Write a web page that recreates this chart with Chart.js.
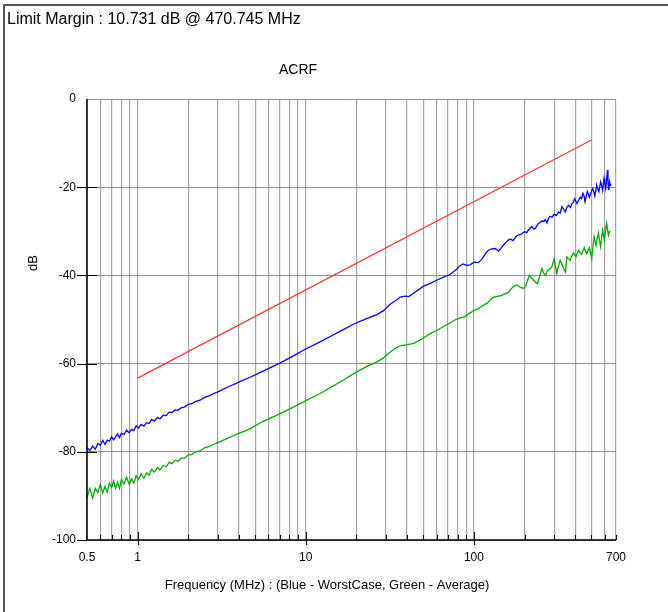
<!DOCTYPE html>
<html lang="en">
<head>
    <meta charset="UTF-8" />
    <title>ACRF</title>
    <script src="https://cdn.jsdelivr.net/npm/chart.js"></script>
    <style>
        html, body { margin: 0; padding: 0; background: #fff; }
        canvas { display: block; }
    </style>
</head>
<body>
    <canvas id="acrfChart" width="668" height="612"></canvas>

    <script>
        // x grid / tick values on the log axis, and which of them get a label
        const freqGrid = [0.5, 0.6, 0.7, 0.8, 0.9, 1, 2, 3, 4, 5, 6, 7, 8, 9, 10, 20, 30, 40, 50, 60, 70, 80, 90,
                          100, 200, 300, 400, 500, 600, 700];
        const freqLabels = [0.5, 1, 10, 100, 700];
        const dbTicks = [-100, -80, -60, -40, -20, 0];

        // noisy low end, same sample frequencies for both traces
        const lowFreq = [0.50, 0.52, 0.54, 0.56, 0.58, 0.60, 0.62, 0.64, 0.66, 0.68, 0.70, 0.72, 0.74, 0.76, 0.78, 0.80,
                         0.83, 0.86, 0.89, 0.92, 0.95, 0.98, 1.01, 1.05, 1.09, 1.13, 1.17, 1.21, 1.26, 1.31, 1.36, 1.42,
                         1.48, 1.54, 1.60, 1.67, 1.74, 1.82, 1.90, 2.00, 2.1, 2.2, 2.35, 2.5, 2.65, 2.8, 3.0];

        const blueLowDb = [-79.1, -79.7, -78.7, -79.4, -78.1, -78.5, -77.4, -78.3, -77.35, -77.6, -76.6, -77.3, -76.6, -75.9, -76.8, -75.8,
                           -76.1, -75.1, -75.7, -74.9, -75.2, -74.1, -74.6, -73.8, -74.2, -73.4, -73.6, -72.7, -73.0, -72.2, -72.5, -71.7,
                           -71.8, -71.0, -71.1, -70.5, -70.6, -70.0, -69.85, -69.25, -69.1, -68.6, -68.3, -67.65, -67.3, -66.9, -66.4];

        const greenLowDb = [-90.3, -88.3, -90.5, -88.3, -89.25, -87.4, -89.3, -87.85, -89.2, -87.05, -88.1, -86.6, -88.3, -86.9, -88.3, -86.3,
                            -87.3, -85.8, -87.3, -86.1, -87.1, -85.4, -86.3, -85.0, -86.0, -84.8, -85.3, -84.0, -84.6, -83.6, -84.1, -83.1,
                            -83.4, -82.4, -82.7, -81.9, -82.15, -81.4, -81.5, -80.7, -80.65, -80.05, -79.8, -79.1, -78.85, -78.4, -77.9];

        // Blue - WorstCase
        const blueFreq = [3.5, 4, 4.66, 5.5, 7, 8.5, 9.87, 12, 13.9, 16.5, 19.6, 23, 26.5, 29, 31.9, 34.3, 36.5, 39, 41, 45,
                          50, 55, 60, 66, 72, 78, 82, 86, 90, 95, 100, 106, 110, 114, 118, 122, 128, 134, 140, 145,
                          150, 156, 161, 166, 171, 177, 182, 190, 200, 206, 212, 221, 227, 232, 242, 248, 254, 260, 266, 272,
                          278, 284, 292, 300, 310, 319, 326, 334, 342, 350, 358, 366, 375, 384, 391, 397, 404, 410, 420, 429,
                          437, 445, 452, 458, 466, 473, 480, 486, 497, 509, 517, 524, 531, 537, 545, 554, 560, 567, 575, 583,
                          589, 594, 600, 608, 615, 623, 627, 631, 636, 641, 645, 650];
        const blueDb = [-65.2, -64.2, -63.1, -61.8, -59.9, -58.2, -56.8, -55.2, -53.9, -52.4, -50.9, -49.8, -48.9, -48.0, -46.5, -45.7, -44.9, -44.7, -44.8, -43.7,
                        -42.5, -41.8, -41.1, -40.4, -39.8, -38.8, -37.9, -37.4, -37.7, -37.6, -37.0, -37.1, -36.6, -35.8, -34.9, -34.3, -34.0, -33.9, -34.5, -33.8,
                        -33.1, -32.4, -31.9, -31.8, -32.1, -31.3, -30.9, -30.7, -30.1, -30.3, -29.6, -28.9, -29.5, -29.3, -28.2, -28.0, -27.6, -27.8, -27.3, -28.1,
                        -27.0, -26.6, -26.8, -26.1, -26.4, -25.6, -25.9, -24.4, -25.0, -25.6, -24.5, -24.1, -24.6, -23.6, -23.4, -22.6, -23.2, -23.7, -22.9, -22.3,
                        -22.6, -21.4, -22.0, -23.3, -22.0, -21.0, -21.6, -22.3, -21.2, -20.3, -21.0, -22.0, -20.8, -19.5, -20.3, -21.0, -20.0, -18.8, -19.6, -20.7,
                        -19.2, -18.0, -19.0, -20.3, -18.5, -16.1, -18.0, -20.5, -19.5, -18.8, -19.6, -19.2];

        // Green - Average
        const greenFreq = [3.5, 4, 4.66, 5.5, 7, 8.5, 9.87, 12, 13.9, 16.5, 19.6, 23, 26.5, 29, 31, 34.5, 37, 40, 44, 50,
                           55, 60, 66, 72, 79, 84, 88, 94, 100, 106, 112, 120, 125, 130, 136, 145, 153, 161, 167, 172,
                           177, 182, 190, 197, 203, 209, 214, 220, 227, 233, 239, 246, 254, 260, 266, 274, 282, 291, 300, 306,
                           311, 318, 326, 332, 338, 344, 350, 357, 365, 373, 382, 391, 398, 405, 412, 419, 428, 438, 446, 453,
                           461, 469, 478, 486, 494, 502, 510, 519, 526, 533, 541, 550, 558, 567, 575, 583, 590, 597, 606, 616,
                           624, 631, 638, 645];
        const greenDb = [-76.8, -75.8, -74.8, -73.2, -71.4, -69.8, -68.5, -66.9, -65.5, -63.9, -62.1, -60.7, -59.6, -58.7, -57.7, -56.4, -55.9, -55.7, -55.4, -54.2,
                         -53.2, -52.5, -51.6, -50.8, -49.9, -49.6, -49.4, -48.6, -48.0, -47.6, -46.9, -46.3, -45.6, -45.0, -44.8, -44.6, -44.2, -43.8, -43.0, -42.5,
                         -42.2, -42.2, -42.8, -42.9, -42.5, -41.0, -40.0, -40.6, -41.1, -41.6, -41.9, -40.2, -38.4, -39.5, -40.0, -38.9, -38.6, -38.0, -36.2, -38.0,
                         -39.6, -37.9, -36.6, -37.3, -38.0, -38.6, -39.2, -35.8, -36.2, -36.6, -35.6, -34.9, -35.4, -35.8, -34.9, -34.3, -34.8, -35.2, -34.4, -33.7,
                         -34.5, -35.1, -34.3, -33.7, -35.0, -36.2, -33.5, -31.3, -32.3, -33.2, -31.6, -30.4, -32.0, -33.5, -31.4, -29.8, -30.9, -32.0, -30.0, -28.2,
                         -29.6, -30.9, -30.3, -29.9];

        // limit line (red)
        const limitFreq = [1, 500];
        const limitDb = [-63.3, -9.3];

        const FONT = 'Arial, "Liberation Sans", sans-serif';

        function toPoints(xs, ys) {
            return xs.map((f, i) => ({ x: f, y: ys[i] }));
        }

        // texts, black axes and the little tick marks
        const decorations = {
            id: 'decorations',
            afterDraw(chart) {
                const ctx = chart.ctx;
                const xs = chart.scales.x;
                const ys = chart.scales.y;
                const { left, right, top, bottom } = chart.chartArea;
                ctx.save();

                // outer frame (top + left only)
                ctx.strokeStyle = '#555';
                ctx.lineWidth = 2;
                ctx.beginPath();
                ctx.moveTo(4, 612);
                ctx.lineTo(4, 5);
                ctx.lineTo(668, 5);
                ctx.stroke();

                // axes
                ctx.strokeStyle = '#000';
                ctx.lineWidth = 1.5;
                ctx.beginPath();
                ctx.moveTo(left, top);
                ctx.lineTo(left, bottom);
                ctx.lineTo(right, bottom);
                ctx.stroke();

                ctx.lineWidth = 1;
                ctx.beginPath();
                freqGrid.forEach(f => {
                    if (f === 0.5) return;
                    const px = Math.round(xs.getPixelForValue(f)) + 0.5;
                    const major = (f === 1 || f === 10 || f === 100);
                    ctx.moveTo(px, bottom - (major ? 8 : 5));
                    ctx.lineTo(px, bottom + (major ? 5 : 0));
                });
                dbTicks.forEach(v => {
                    if (v === 0) return;
                    const py = Math.round(ys.getPixelForValue(v)) + 0.5;
                    ctx.moveTo(left - 10, py);
                    ctx.lineTo(v === -100 ? left : left + 10, py);
                });
                ctx.stroke();

                ctx.fillStyle = '#000';
                ctx.font = '16px ' + FONT;
                ctx.textAlign = 'left';
                ctx.textBaseline = 'alphabetic';
                ctx.fillText('Limit Margin : 10.731 dB @ 470.745 MHz', 7, 24);

                ctx.font = '14px ' + FONT;
                ctx.textAlign = 'center';
                ctx.textBaseline = 'middle';
                ctx.fillText('ACRF', 298, 70);

                ctx.font = '13px ' + FONT;
                ctx.fillText('Frequency (MHz) : (Blue - WorstCase, Green - Average)', 327, 585);

                ctx.translate(33, 263);
                ctx.rotate(-Math.PI / 2);
                ctx.fillText('dB', 0, 0);
                ctx.restore();
            }
        };

        const ctx = document.getElementById('acrfChart').getContext('2d');

        new Chart(ctx, {
            type: 'line',
            data: {
                datasets: [
                    {
                        label: 'Limit',
                        data: toPoints(limitFreq, limitDb),
                        borderColor: 'rgb(255, 50, 50)',
                        borderWidth: 1.2,
                        pointRadius: 0,
                        tension: 0
                    },
                    {
                        label: 'WorstCase',
                        data: toPoints(lowFreq.concat(blueFreq), blueLowDb.concat(blueDb)),
                        borderColor: 'rgb(0, 0, 255)',
                        borderWidth: 1.3,
                        pointRadius: 0,
                        tension: 0
                    },
                    {
                        label: 'Average',
                        data: toPoints(lowFreq.concat(greenFreq), greenLowDb.concat(greenDb)),
                        borderColor: 'rgb(0, 170, 0)',
                        borderWidth: 1.3,
                        pointRadius: 0,
                        tension: 0
                    }
                ]
            },
            options: {
                responsive: false,
                animation: false,
                layout: { padding: { left: 0, top: 99, right: 52, bottom: 0 } },
                plugins: {
                    legend: { display: false },
                    tooltip: { enabled: false },
                    title: { display: false }
                },
                scales: {
                    x: {
                        type: 'logarithmic',
                        min: 0.5,
                        max: 700,
                        afterBuildTicks: scale => { scale.ticks = freqGrid.map(v => ({ value: v })); },
                        afterFit: scale => { scale.height = 72; },
                        grid: { color: '#a6a6a6', lineWidth: 1.2, drawTicks: false },
                        border: { display: false },
                        ticks: {
                            autoSkip: false,
                            maxRotation: 0,
                            padding: 10,
                            color: '#000',
                            font: { family: FONT, size: 12 },
                            callback: v => freqLabels.includes(v) ? String(v) : ''
                        }
                    },
                    y: {
                        min: -100,
                        max: 0,
                        afterBuildTicks: scale => { scale.ticks = dbTicks.map(v => ({ value: v })); },
                        afterFit: scale => { scale.width = 87; },
                        grid: { color: '#8c8c8c', lineWidth: 1, drawTicks: false },
                        border: { display: false },
                        ticks: {
                            padding: 11,
                            color: '#000',
                            font: { family: FONT, size: 12 }
                        }
                    }
                }
            },
            plugins: [decorations]
        });
    </script>
</body>
</html>
